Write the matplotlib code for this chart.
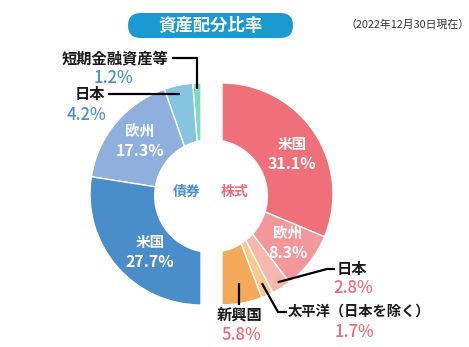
import numpy as np
import matplotlib
matplotlib.use('Agg')
import matplotlib.pyplot as plt
from matplotlib.patches import Circle, FancyBboxPatch

plt.rcParams['font.family'] = ['Noto Sans CJK JP', 'DejaVu Sans']

# 株式 (equities), clockwise from 12 o'clock
stock_names = ['米国', '欧州', '日本', '太平洋（日本を除く）', '新興国']
stock_values = [31.1, 8.3, 2.8, 1.7, 5.8]
stock_colors = ['#F0707A', '#F4979B', '#F7B7AD', '#F8C98B', '#F3A85A']

# 債券 (bonds), listed bottom to top
bond_names = ['米国', '欧州', '日本', '短期金融資産等']
bond_values = [27.7, 17.3, 4.2, 1.2]
bond_colors = ['#4A8DCB', '#8FAFDD', '#86C5E0', '#7EDBC1']

PINK = '#EF6B78'
BLUE = '#4A8FCF'

W, H = 469, 347
fig = plt.figure(figsize=(W / 100, H / 100), dpi=100)
ax = fig.add_axes([0, 0, 1, 1])

R = 111
stock_center = (222, 153)
bond_center = (201, 153)
wp = dict(edgecolor='white', linewidth=1.0)

# each group fills exactly one half: pad with an invisible wedge of equal size
s_total = sum(stock_values)
s_wedges, _ = ax.pie(stock_values + [s_total], colors=stock_colors + ['none'],
                     startangle=90, counterclock=False, radius=R,
                     center=stock_center, wedgeprops=wp, frame=True)
s_wedges[-1].set_visible(False)

b_vals = bond_values[::-1]
b_total = sum(b_vals)
b_wedges, _ = ax.pie(b_vals + [b_total], colors=bond_colors[::-1] + ['none'],
                     startangle=90, counterclock=True, radius=R,
                     center=bond_center, wedgeprops=wp, frame=True)
b_wedges[-1].set_visible(False)
b_wedges = b_wedges[:-1][::-1]  # back to 米国, 欧州, 日本, 短期

ax.set_xlim(0, W)
ax.set_ylim(0, H)
ax.set_aspect('equal')
ax.axis('off')

ax.add_patch(Circle((211, 151), 57, facecolor='white', edgecolor='none', zorder=5))


def anchor(w, frac=0.93):
    mid = np.deg2rad((w.theta1 + w.theta2) / 2)
    cx, cy = w.center
    return cx + w.r * frac * np.cos(mid), cy + w.r * frac * np.sin(mid)


bold = dict(fontweight='bold', ha='center', va='center', zorder=6)


def inner_label(x, y, name, value):
    ax.text(x, y + 10, name, color='white', fontsize=10.5, **bold)
    ax.text(x, y - 10, f'{value}%', color='white', fontsize=11.5, **bold)


inner_label(292, 193, stock_names[0], stock_values[0])
inner_label(288, 104, stock_names[1], stock_values[1])
inner_label(150, 95, bond_names[0], bond_values[0])
inner_label(140, 206, bond_names[1], bond_values[1])

ax.text(187, 155, '債券', color=BLUE, fontsize=10, **bold)
ax.text(235, 155, '株式', color=PINK, fontsize=10, **bold)

line = dict(color='black', linewidth=1.6, solid_capstyle='butt', zorder=6)
lbl = dict(fontsize=11, fontweight='bold', color='#1a1a1a', va='center', zorder=6)
pct = dict(fontsize=12, fontweight='medium', ha='center', va='center', zorder=6)

# 短期金融資産等
ax_, ay_ = anchor(b_wedges[3], 0.95)
ax.plot([172, ax_, ax_], [289, 289, ay_], **line)
ax.text(168, 289, bond_names[3], ha='right', **lbl)
ax.text(113, 269, f'{bond_values[3]}%', color=BLUE, **pct)

# 債券 日本
ax_, ay_ = anchor(b_wedges[2], 0.92)
ax.plot([108, ax_], [ay_, ay_], **line)
ax.text(105, ay_, bond_names[2], ha='right', **lbl)
ax.text(86, 232, f'{bond_values[2]}%', color=BLUE, **pct)

# 株式 日本
ax_, ay_ = anchor(s_wedges[2], 0.94)
ax.plot([ax_, 327, 335], [ay_, 78, 78], **line)
ax.text(337, 78, stock_names[2], ha='left', **lbl)
ax.text(353, 59, f'{stock_values[2]}%', color=PINK, **pct)

# 太平洋（日本を除く）
ax_, ay_ = anchor(s_wedges[3], 0.88)
ax.plot([ax_, 278, 287], [ay_, 35, 35], **line)
ax.text(288, 35, stock_names[3], ha='left', **{**lbl, 'fontsize': 10.3})
ax.text(354, 15, f'{stock_values[3]}%', color=PINK, **pct)

# 新興国
ax_, ay_ = anchor(s_wedges[4], 0.82)
ax.plot([ax_, ax_], [ay_, 42], **line)
ax.text(240, 32, stock_names[4], ha='center', **lbl)
ax.text(241, 12, f'{stock_values[4]}%', color=PINK, **pct)

# title pill
ax.add_patch(FancyBboxPatch((128, 309), 165, 25,
                            boxstyle='round,pad=0,rounding_size=12.5',
                            facecolor='#1A9AD0', edgecolor='none', zorder=6))
ax.text(210.5, 321.5, '資産配分比率', color='white', fontsize=12.5, **bold)
ax.text(408, 322, '（2022年12月30日現在）', color='#333333', fontsize=7.8,
        ha='center', va='center')

fig.savefig('out.png', dpi=100, facecolor='white')
